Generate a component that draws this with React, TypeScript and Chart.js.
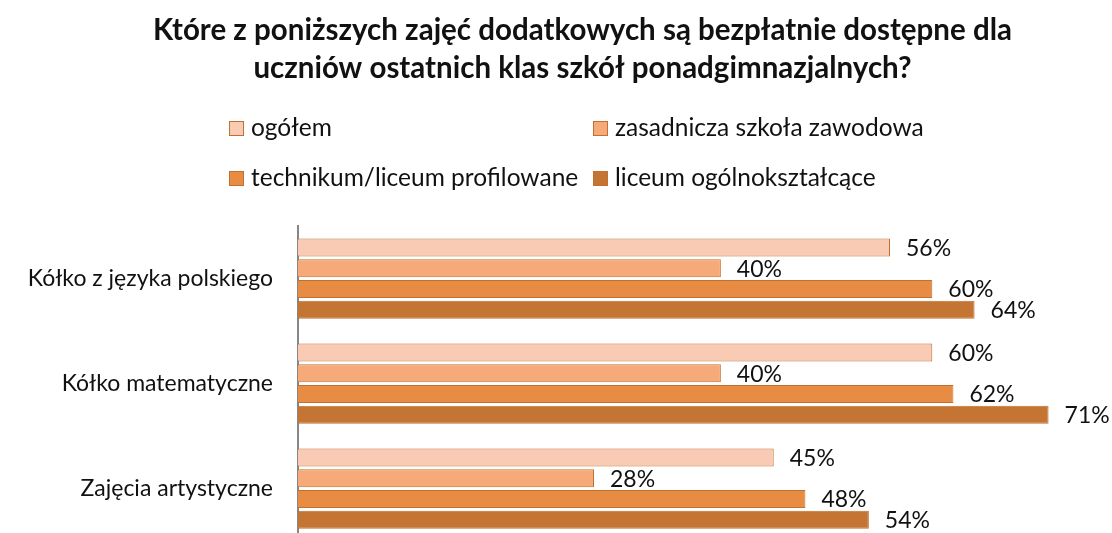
import React, { useEffect, useRef } from "react";
import { Chart, registerables } from "chart.js";

Chart.register(...registerables);

const categories = ["Kółko z języka polskiego", "Kółko matematyczne", "Zajęcia artystyczne"];
const seriesNames = ["ogółem", "zasadnicza szkoła zawodowa", "technikum/liceum profilowane", "liceum ogólnokształcące"];
const ogolem = [56, 60, 45];
const zasadnicza = [40, 40, 28];
const technikum = [60, 62, 48];
const liceum = [64, 71, 54];
const titleLines = [
  "Które z poniższych zajęć dodatkowych są bezpłatnie dostępne dla",
  "uczniów ostatnich klas szkół ponadgimnazjalnych?",
];

const fills = ["#F9CBB5", "#F7AA79", "#E88C44", "#C47433"];
const borderColor = "#C0702F";
const FONT = "Lato, 'Open Sans', sans-serif";

const titlePlugin = {
  id: "customTitle",
  afterDraw(chart: any) {
    const ctx = chart.ctx;
    ctx.save();
    ctx.font = `bold 29.5px ${FONT}`;
    ctx.fillStyle = "#111111";
    ctx.textAlign = "center";
    ctx.textBaseline = "middle";
    titleLines.forEach((line, i) => {
      ctx.fillText(line, 582.5, 30 + i * 38);
    });
    ctx.restore();
  },
};

const labelPlugin = {
  id: "valueLabels",
  afterDatasetsDraw(chart: any) {
    const ctx = chart.ctx;
    ctx.save();
    ctx.font = `23px ${FONT}`;
    ctx.fillStyle = "#111111";
    ctx.textAlign = "left";
    ctx.textBaseline = "middle";
    chart.data.datasets.forEach((ds: any, di: number) => {
      const meta = chart.getDatasetMeta(di);
      meta.data.forEach((bar: any, i: number) => {
        ctx.fillText(`${ds.data[i]}%`, bar.x + 16, bar.y + 1);
      });
    });
    ctx.restore();
  },
};

const legendPlugin = {
  id: "gridLegend",
  afterDraw(chart: any) {
    const ctx = chart.ctx;
    ctx.save();
    ctx.font = `24.5px ${FONT}`;
    ctx.textBaseline = "middle";
    ctx.textAlign = "left";
    const cols = [229, 593];
    const rows = [128, 178];
    seriesNames.forEach((name, i) => {
      const x = cols[i % 2];
      const y = rows[Math.floor(i / 2)];
      ctx.fillStyle = fills[i];
      ctx.fillRect(x, y - 7, 15, 15);
      ctx.strokeStyle = borderColor;
      ctx.lineWidth = 1;
      ctx.strokeRect(x + 0.5, y - 6.5, 14, 14);
      ctx.fillStyle = "#111111";
      ctx.fillText(name, x + 22, y);
    });
    ctx.restore();
  },
};

export default function App() {
  const ref = useRef<HTMLCanvasElement | null>(null);
  useEffect(() => {
    if (!ref.current) return;
    const seriesData = [ogolem, zasadnicza, technikum, liceum];
    const chart = new Chart(ref.current, {
      type: "bar",
      data: {
        labels: categories,
        datasets: seriesData.map((d, i) => ({
          label: seriesNames[i],
          data: d,
          backgroundColor: fills[i],
          borderColor: borderColor,
          borderWidth: 1,
          categoryPercentage: 0.79,
          barPercentage: 0.87,
        })),
      },
      options: {
        indexAxis: "y",
        animation: false,
        responsive: false,
        layout: { padding: { left: 0, right: 0, top: 226, bottom: 0 } },
        plugins: {
          legend: { display: false },
          tooltip: { enabled: false },
          title: { display: false },
        },
        scales: {
          x: {
            min: 0,
            max: 77,
            display: false,
            grid: { display: false },
          },
          y: {
            grid: { display: false, drawTicks: false },
            border: { display: true, color: "#868686", width: 2 },
            ticks: {
              color: "#111111",
              font: { family: FONT, size: 23 },
              padding: 25,
            },
            afterFit(scale: any) {
              scale.width = 298;
            },
          },
        },
      },
      plugins: [labelPlugin, legendPlugin, titlePlugin],
    } as any);
    return () => chart.destroy();
  }, []);
  return (
    <div style={{ position: "absolute", left: 0, top: 0, width: 1112, height: 533, overflow: "hidden" }}>
      <canvas ref={ref} width={1112} height={580} />
    </div>
  );
}
